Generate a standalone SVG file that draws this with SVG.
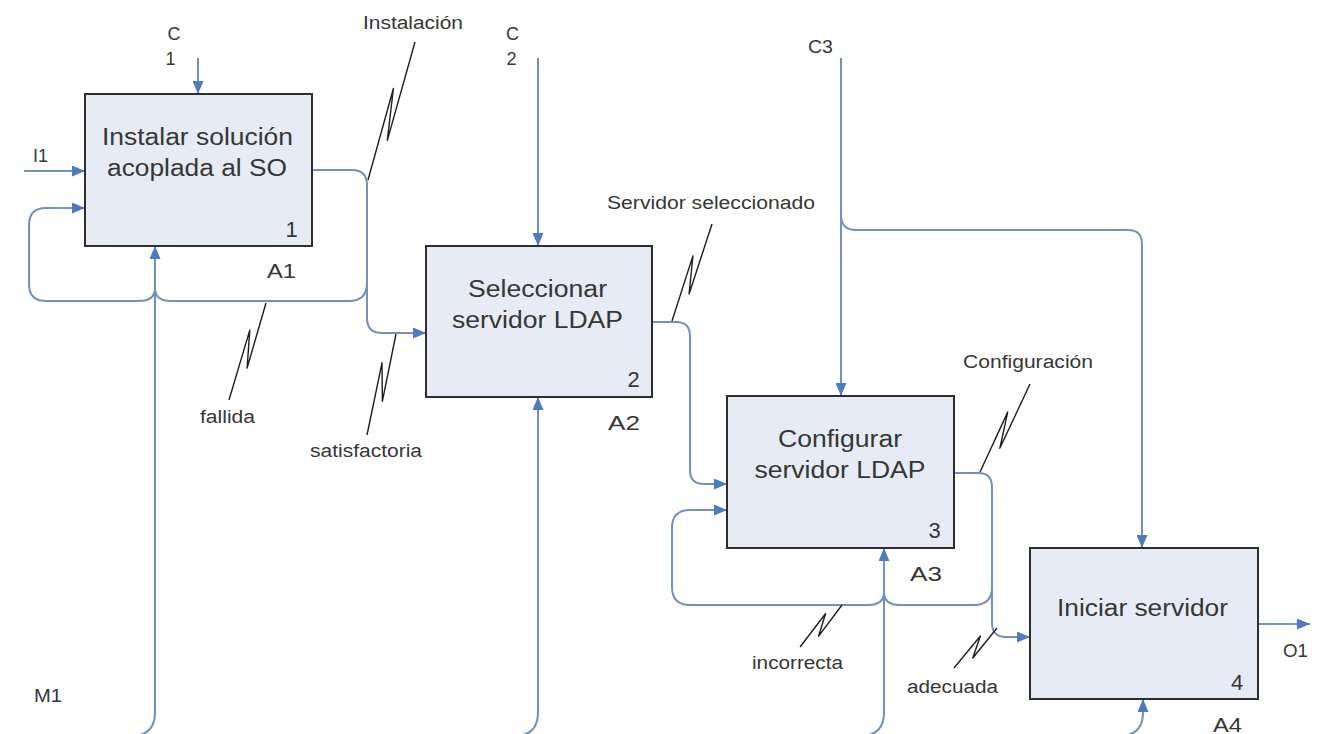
<svg xmlns="http://www.w3.org/2000/svg" width="1323" height="734" viewBox="0 0 1323 734">
<style>
.box{fill:#e6ebf5;stroke:#2e2e2e;stroke-width:2}
.bt{font-family:"Liberation Sans",Arial,sans-serif;font-size:23px;fill:#363636;text-anchor:middle}
.num{font-family:"Liberation Sans",Arial,sans-serif;font-size:22px;fill:#363636;text-anchor:middle}
.al{font-family:"Liberation Sans",Arial,sans-serif;font-size:21px;fill:#363636}
.lb{font-family:"Liberation Sans",Arial,sans-serif;font-size:18px;fill:#363636}
.lbm{font-family:"Liberation Sans",Arial,sans-serif;font-size:18px;fill:#363636;text-anchor:middle}
.cn{fill:none;stroke:#7590bd;stroke-width:2}
.ar{marker-end:url(#arr)}
.sq{fill:none;stroke:#1e1e1e;stroke-width:1.4;stroke-linejoin:round}
</style>
<defs>
<marker id="arr" markerUnits="userSpaceOnUse" markerWidth="13" markerHeight="11" refX="13" refY="5.5" orient="auto">
<path d="M0,0 L13,5.5 L0,11 z" fill="#4d7bbf"/>
</marker>
</defs>
<rect width="1323" height="734" fill="#ffffff"/>

<g id="connectors">
<path class="cn ar" d="M198 58 V94"/>
<path class="cn ar" d="M24 171 H85"/>
<path class="cn ar" d="M538 58 V246"/>
<path class="cn ar" d="M841 58 V396"/>
<path class="cn ar" d="M841 215 Q841 230 856 230 H1128 Q1142 230 1142 244 V548"/>
<path class="cn ar" d="M312 170 H352 Q367 170 367 185 V318 Q367 333 382 333 H426"/>
<path class="cn ar" d="M367 283 Q367 301 349 301 H171 Q155 301 155 288 Q155 301 139 301 H46 Q29 301 29 284 V225 Q29 208 46 208 H85"/>
<path class="cn ar" d="M652 322 H676 Q690 322 690 336 V470 Q690 484 704 484 H727"/>
<path class="cn ar" d="M954 473 H978 Q992 473 992 487 V623 Q992 637 1006 637 H1030"/>
<path class="cn ar" d="M992 587 Q992 605 974 605 H900 Q884 605 884 592 Q884 605 868 605 H690 Q672 605 672 587 V528 Q672 510 690 510 H727"/>
<path class="cn ar" d="M1258 624 H1310"/>
<path class="cn" d="M0 736 H1120"/>
<path class="cn ar" d="M131 736 Q155 736 155 712 V246"/>
<path class="cn ar" d="M514 736 Q538 736 538 712 V397"/>
<path class="cn ar" d="M860 736 Q884 736 884 712 V548"/>
<path class="cn ar" d="M1119 736 Q1143 736 1143 712 V699"/>
<path class="sq" d="M368 180 L393.4 88.5 L387.3 140.4 L415 42"/>
<path class="sq" d="M266 303 L247.1 368 L249.8 330.1 L229 400"/>
<path class="sq" d="M396 334 L382.4 401.2 L382 362.8 L367 435"/>
<path class="sq" d="M672 321 L692.9 255.9 L689.1 294 L712 224"/>
<path class="sq" d="M980 472 L1007.7 412.1 L999.8 448.3 L1030 384"/>
<path class="sq" d="M842 605 L818.6 636.2 L825.5 613.7 L800 647"/>
<path class="sq" d="M997 628 L972.8 658 L980.4 636 L954 668"/>
</g>

<g id="A1">
<rect class="box" x="85" y="94" width="227" height="152"/>
<text class="bt" x="197.5" y="145" textLength="191" lengthAdjust="spacingAndGlyphs">Instalar solución</text>
<text class="bt" x="197" y="176" textLength="180" lengthAdjust="spacingAndGlyphs">acoplada al SO</text>
<text class="num" x="291.5" y="237">1</text>
<text class="al" x="267" y="278" textLength="29" lengthAdjust="spacingAndGlyphs">A1</text>
</g>

<g id="A2">
<rect class="box" x="426" y="246" width="226" height="151"/>
<text class="bt" x="537.5" y="297" textLength="139" lengthAdjust="spacingAndGlyphs">Seleccionar</text>
<text class="bt" x="537.5" y="328" textLength="171" lengthAdjust="spacingAndGlyphs">servidor LDAP</text>
<text class="num" x="633.5" y="387">2</text>
<text class="al" x="608" y="430" textLength="32" lengthAdjust="spacingAndGlyphs">A2</text>
</g>

<g id="A3">
<rect class="box" x="727" y="396" width="227" height="152"/>
<text class="bt" x="840" y="447" textLength="124" lengthAdjust="spacingAndGlyphs">Configurar</text>
<text class="bt" x="840" y="478" textLength="171" lengthAdjust="spacingAndGlyphs">servidor LDAP</text>
<text class="num" x="934.5" y="538">3</text>
<text class="al" x="910" y="581" textLength="32" lengthAdjust="spacingAndGlyphs">A3</text>
</g>

<g id="A4">
<rect class="box" x="1030" y="548" width="228" height="151"/>
<text class="bt" x="1142.5" y="616" textLength="171" lengthAdjust="spacingAndGlyphs">Iniciar servidor</text>
<text class="num" x="1237" y="690">4</text>
<text class="al" x="1213" y="732" textLength="29" lengthAdjust="spacingAndGlyphs">A4</text>
</g>

<g id="labels">
<text class="lbm" x="174" y="40">C</text>
<text class="lbm" x="170.5" y="65">1</text>
<text class="lbm" x="512.5" y="40">C</text>
<text class="lbm" x="511.5" y="65">2</text>
<text class="lb" x="808" y="53" textLength="25" lengthAdjust="spacingAndGlyphs">C3</text>
<text class="lb" x="33" y="162" textLength="15" lengthAdjust="spacingAndGlyphs">I1</text>
<text class="lb" x="34" y="702" textLength="28" lengthAdjust="spacingAndGlyphs">M1</text>
<text class="lb" x="1283" y="657" textLength="25" lengthAdjust="spacingAndGlyphs">O1</text>
<text class="lb" x="363" y="29" textLength="100" lengthAdjust="spacingAndGlyphs">Instalación</text>
<text class="lb" x="200" y="423" textLength="55" lengthAdjust="spacingAndGlyphs">fallida</text>
<text class="lb" x="310" y="457" textLength="112" lengthAdjust="spacingAndGlyphs">satisfactoria</text>
<text class="lb" x="607" y="209" textLength="208" lengthAdjust="spacingAndGlyphs">Servidor seleccionado</text>
<text class="lb" x="963" y="368" textLength="130" lengthAdjust="spacingAndGlyphs">Configuración</text>
<text class="lb" x="752" y="669" textLength="91" lengthAdjust="spacingAndGlyphs">incorrecta</text>
<text class="lb" x="907" y="693" textLength="91" lengthAdjust="spacingAndGlyphs">adecuada</text>
</g>
</svg>
